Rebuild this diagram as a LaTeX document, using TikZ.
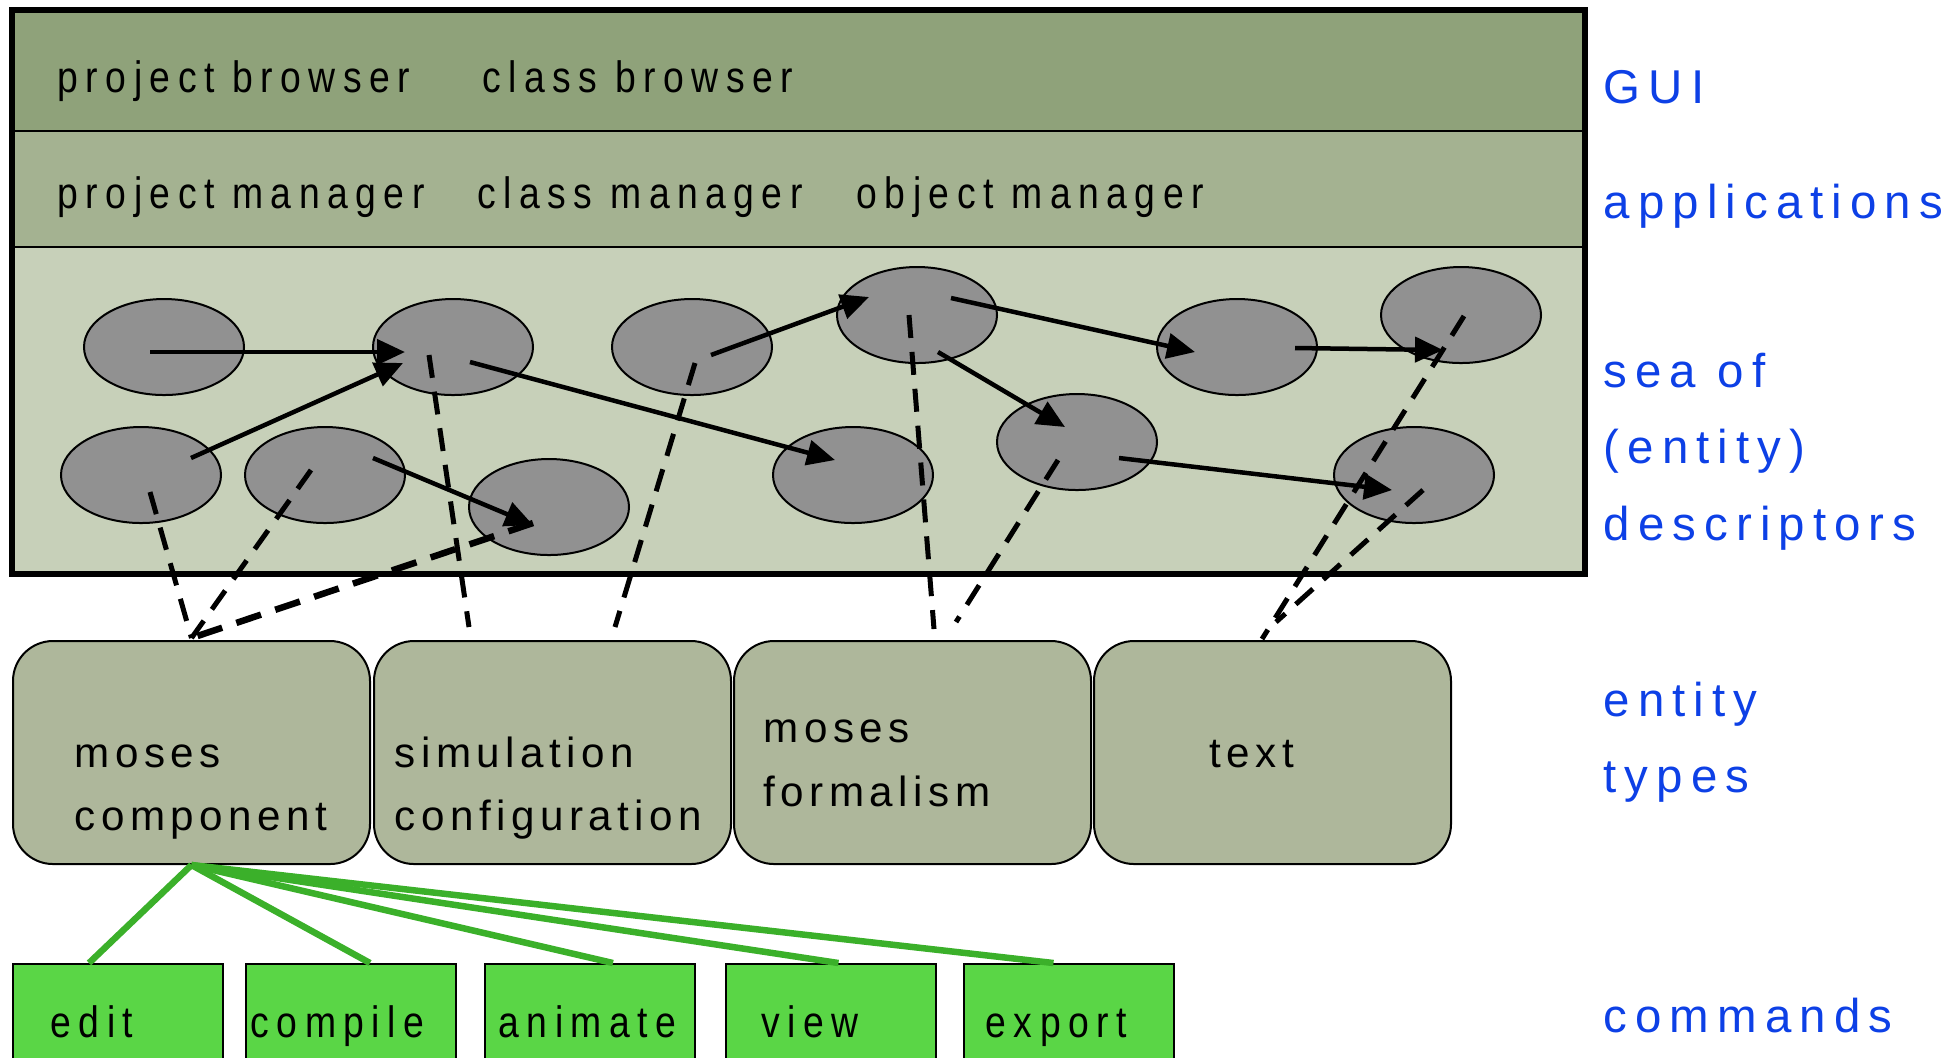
\documentclass[tikz,border=0pt]{standalone}
\usepackage{fontspec}
\setmainfont{Liberation Sans}
\newfontfamily\headfont[FakeStretch=0.85,LetterSpace=17]{Liberation Sans}
\newfontfamily\typefont[LetterSpace=13]{Liberation Sans}
\newfontfamily\cmdfont[FakeStretch=0.85,LetterSpace=17]{Liberation Sans}
\newfontfamily\layerfont[LetterSpace=17]{Liberation Sans}
\usepackage{tikz}
\usetikzlibrary{
    calc,
    arrows.meta,
    shapes.geometric
}
\definecolor{guigreen}{RGB}{143,162,122}
\definecolor{appgreen}{RGB}{164,178,145}
\definecolor{seagreen}{RGB}{199,208,185}
\definecolor{typegreen}{RGB}{174,183,155}
\definecolor{cmdgreen}{RGB}{90,214,70}
\definecolor{linkgreen}{RGB}{59,176,42}
\definecolor{layerblue}{RGB}{13,64,230}
\definecolor{descgray}{RGB}{145,145,145}
\tikzset{
    desc/.style={ellipse, draw, line width=0.2mm, fill=descgray,
        minimum width=16mm, minimum height=9.6mm, inner sep=0pt},
    flow/.style={line width=0.45mm, -{Triangle[length=2.8mm,width=2.5mm]}},
    ref/.style={line width=0.5mm, dash pattern=on 2.3mm off 1.4mm},
    etype/.style={draw, line width=0.2mm, fill=typegreen, rounded corners=4mm,
        minimum width=35.7mm, minimum height=22.3mm, inner sep=0pt},
    cmd/.style={draw, line width=0.2mm, fill=cmdgreen, anchor=north west,
        minimum width=21mm, minimum height=13mm, inner sep=0pt},
    uses/.style={draw=linkgreen, line width=0.65mm},
    head/.style={anchor=base west, inner sep=0pt, font=\headfont\fontsize{12.5}{15}\selectfont},
    typetext/.style={anchor=base west, inner sep=0pt, font=\typefont\fontsize{12}{14}\selectfont},
    cmdtext/.style={anchor=base west, inner sep=0pt, font=\cmdfont\fontsize{12.5}{15}\selectfont},
    layerlabel/.style={anchor=base west, inner sep=0pt, text=layerblue,
        font=\layerfont\fontsize{13.5}{16}\selectfont}
}

\begin{document}
\begin{tikzpicture}[x=0.1mm, y=-0.1mm]
    \useasboundingbox (0,0) rectangle (1953,1057);
    \clip (0,0) rectangle (1953,1057);

    % the three layers
    \fill[guigreen] (12,10) rectangle (1585,131);
    \fill[appgreen] (12,131) rectangle (1585,247);
    \fill[seagreen] (12,247) rectangle (1585,574);
    \draw[line width=0.2mm] (12,131) -- (1585,131) (12,247) -- (1585,247);
    \draw[line width=0.55mm] (12,10) rectangle (1585,574);

    \draw (57,92) node[head](pb){project browser};
    \draw (482,92) node[head](cb){class browser};
    \draw (57,208) node[head](pm){project manager};
    \draw (477,208) node[head](cm){class manager};
    \draw (856,208) node[head](om){object manager};

    % descriptors
    \draw (164,347) node[desc](e1){};
    \draw (453,347) node[desc](e2){};
    \draw (692,347) node[desc](e3){};
    \draw (917,315) node[desc](e4){};
    \draw (1237,347) node[desc](e5){};
    \draw (1461,315) node[desc](e6){};
    \draw (141,475) node[desc](e7){};
    \draw (325,475) node[desc](e8){};
    \draw (549,507) node[desc](e9){};
    \draw (853,475) node[desc](e10){};
    \draw (1077,442) node[desc](e11){};
    \draw (1414,475) node[desc](e12){};

    % entity types
    \draw (191.5,752.5) node[etype](ct1){};
    \draw (552.5,752.5) node[etype](ct2){};
    \draw (912.5,752.5) node[etype](ct3){};
    \draw (1272.5,752.5) node[etype](ct4){};

    \draw (74,767) node[typetext](mc1){moses};
    \draw (74,830) node[typetext](mc2){component};
    \draw (394,767) node[typetext](sc1){simulation};
    \draw (394,830) node[typetext](sc2){configuration};
    \draw (763,742) node[typetext](mf1){moses};
    \draw (763,806) node[typetext](mf2){formalism};
    \draw (1209,767) node[typetext](tx){text};

    % links between descriptors
    \draw[flow] ($(e1)+(-14,5)$) to ($(e2)+(-48,5)$);
    \draw[flow] ($(e7)+(50,-17)$) to ($(e2)+(-50,16)$);
    \draw[flow] ($(e2)+(17,15)$) to ($(e10)+(-18,-15)$);
    \draw[flow] ($(e8)+(48,-17)$) to ($(e9)+(-16,18)$);
    \draw[flow] ($(e3)+(19,8)$) to ($(e4)+(-48,-18)$);
    \draw[flow] ($(e4)+(34,-17)$) to ($(e5)+(-42,5)$);
    \draw[flow] ($(e4)+(21,37)$) to ($(e11)+(-12,-15)$);
    \draw[flow] ($(e5)+(58,1)$) to ($(e6)+(-18,35)$);
    \draw[flow] ($(e11)+(42,16)$) to ($(e12)+(-22,15)$);

    % descriptors to their entity type
    \draw[ref] ($(e7)+(9,17)$) to ($(ct1.north)+(0,-2)$);
    \draw[ref] ($(e8)+(-14,-5)$) to ($(ct1.north)+(0,-2)$);
    \draw[ref, line width=0.65mm, dash pattern=on 2.6mm off 1.5mm] ($(e9)+(-16,16)$) to ($(ct1.north)+(0,-2)$);
    \draw[ref] ($(e2)+(-24,8)$) to ($(ct2.north)+(-83.5,-13)$);
    \draw[ref] ($(e3)+(3,16)$) to ($(ct2.north)+(62.5,-13)$);
    \draw[ref] ($(e4)+(-8,0)$) to ($(ct3.north)+(21.5,-11)$);
    \draw[ref] ($(e11)+(-19,18)$) to ($(ct3.north)+(43.5,-18)$);
    \draw[ref] ($(e6)+(3,1)$) to ($(ct4.north)+(-10.5,-1)$);
    \draw[ref] ($(e12)+(9,15)$) to ($(ct4.north)+(3.5,-18)$);

    % commands
    \draw (12,963) node[cmd](edit){};
    \draw (245,963) node[cmd](compile){};
    \draw (484,963) node[cmd](animate){};
    \draw (725,963) node[cmd](view){};
    \draw (963,963) node[cmd](export){};

    \draw (50,1037) node[cmdtext](editl){edit};
    \draw (250,1037) node[cmdtext](compilel){compile};
    \draw (498,1037) node[cmdtext](animatel){animate};
    \draw (761,1037) node[cmdtext](viewl){view};
    \draw (985,1037) node[cmdtext](exportl){export};

    \draw[uses] (ct1.south) to ($(edit.north)+(-29,0)$);
    \draw[uses] (ct1.south) to ($(compile.north)+(19,0)$);
    \draw[uses] (ct1.south) to ($(animate.north)+(23,0)$);
    \draw[uses] (ct1.south) to ($(view.north)+(7.5,0)$);
    \draw[uses] (ct1.south) to ($(export.north)+(-15.5,0)$);

    % layer names
    \draw (1603,103) node[layerlabel](gui){GUI};
    \draw (1603,218) node[layerlabel](apps){applications};
    \draw (1603,387) node[layerlabel](sea1){sea of};
    \draw (1603,463) node[layerlabel](sea2){(entity)};
    \draw (1603,540) node[layerlabel](sea3){descriptors};
    \draw (1603,716) node[layerlabel](types1){entity};
    \draw (1603,792) node[layerlabel](types2){types};
    \draw (1603,1032) node[layerlabel](cmds){commands};
\end{tikzpicture}
\end{document}
